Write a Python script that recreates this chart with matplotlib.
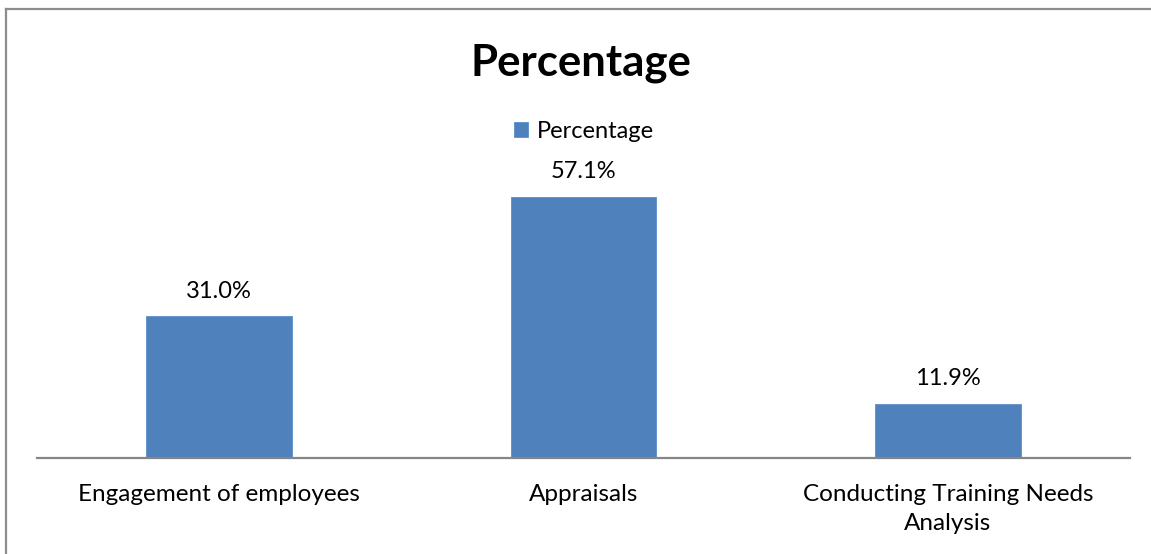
import matplotlib.pyplot as plt
from matplotlib.lines import Line2D

# data
categories = ["Engagement of employees", "Appraisals", "Conducting Training Needs\nAnalysis"]
values = [31.0, 57.1, 11.9]
series_name = "Percentage"

plt.rcParams["font.family"] = ["Lato", "DejaVu Sans"]

W, H = 1151, 554
fig = plt.figure(figsize=(W / 100, H / 100), dpi=100)
ax = fig.add_axes([37 / W, 96 / H, (1130 - 37) / W, 320 / H])

x = range(len(categories))
bars = ax.bar(x, values, width=0.4, color="#4f81bd", edgecolor="#5b8fcc",
              linewidth=0.6, label=series_name)

for b, v in zip(bars, values):
    ax.annotate(f"{v:.1f}%", (b.get_x() + b.get_width() / 2, b.get_height()),
                xytext=(0, 25), textcoords="offset pixels",
                ha="center", va="center", fontsize=17, color="black")

ax.set_xlim(-0.5, len(categories) - 0.5)
ax.set_ylim(0, 70)
ax.set_xticks(list(x))
ax.set_xticklabels(categories, fontsize=17.5, linespacing=1.5)
ax.tick_params(axis="x", length=0, pad=18.5)
ax.set_yticks([])
for s in ["left", "right", "top"]:
    ax.spines[s].set_visible(False)
ax.spines["bottom"].set_color("#868686")
ax.spines["bottom"].set_linewidth(1.6)

fig.text(581 / W, 1 - 63 / H, "Percentage", ha="center", va="center",
         fontsize=31.5, fontweight="bold")

fig.legend(handles=[bars], labels=[series_name], loc="center",
           bbox_to_anchor=(584 / W, 1 - 131 / H), frameon=False,
           fontsize=17, handlelength=0.6, handleheight=0.6, handletextpad=0.4)

# chart border (left and top edges visible)
fig.add_artist(Line2D([6 / W, 6 / W], [0, 1 - 9 / H], transform=fig.transFigure,
                      color="#8c8c8c", linewidth=1.6))
fig.add_artist(Line2D([6 / W, 1], [1 - 9 / H, 1 - 9 / H], transform=fig.transFigure,
                      color="#8c8c8c", linewidth=1.6))

fig.savefig("out.png", dpi=100)
